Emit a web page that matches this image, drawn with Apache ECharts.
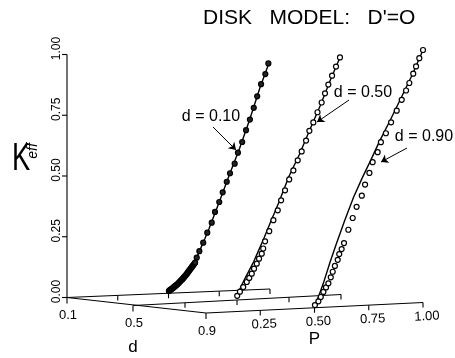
<!DOCTYPE html>
<html><head><meta charset="utf-8">
<script src="https://cdn.jsdelivr.net/npm/echarts@6/dist/echarts.min.js"></script>
<style>html,body{margin:0;padding:0;background:#fff}#c{width:455px;height:358px}</style>
</head><body><div id="c"></div>
<script>
// ---------------- data ----------------
const kTicks = [0, 0.25, 0.5, 0.75, 1.0];
const kTickLabels = ['0.00', '0.25', '0.50', '0.75', '1.00'];
const pTicks = [0.25, 0.5, 0.75, 1.0];
const pTickLabels = ['0.25', '0.50', '0.75', '1.00'];
const dTicks = [0.1, 0.5, 0.9];
const dTickLabels = ['0.1', '0.5', '0.9'];
const slices = [0.1, 0.5, 0.9];
const sliceLabels = ['d = 0.10', 'd = 0.50', 'd = 0.90'];

// simulation points (circles)
const p_sim_d010 = [0.502,0.505,0.509,0.512,0.516,0.519,0.523,0.526,0.530,0.533,0.537,0.540,0.544,0.547,0.551,0.554,0.558,0.561,0.565,0.568,0.572,0.575,0.579,0.582,0.586,0.589,0.593,0.596,0.600,0.603,0.607,0.610,0.614,0.617,0.621,0.624,0.628,0.631,0.639,0.652,0.671,0.691,0.713,0.729,0.750,0.767,0.787,0.803,0.826,0.842,0.863,0.882,0.901,0.920,0.937,0.956,0.977,0.992];
const k_sim_d010 = [0.009,0.012,0.014,0.016,0.018,0.020,0.022,0.025,0.027,0.030,0.032,0.035,0.037,0.040,0.043,0.046,0.049,0.052,0.055,0.058,0.061,0.065,0.068,0.072,0.075,0.079,0.083,0.087,0.091,0.095,0.099,0.103,0.107,0.111,0.115,0.119,0.123,0.127,0.148,0.176,0.212,0.255,0.298,0.344,0.387,0.429,0.475,0.512,0.554,0.602,0.649,0.701,0.748,0.800,0.851,0.905,0.950,0.998];
const p_sim_d050 = [0.501,0.514,0.530,0.547,0.559,0.571,0.582,0.595,0.606,0.619,0.626,0.635,0.655,0.675,0.696,0.712,0.731,0.751,0.771,0.792,0.811,0.832,0.848,0.867,0.887,0.907,0.923,0.939,0.957,0.976,0.995];
const k_sim_d050 = [0.017,0.033,0.051,0.071,0.087,0.104,0.124,0.144,0.164,0.184,0.205,0.234,0.275,0.320,0.360,0.401,0.442,0.487,0.524,0.566,0.603,0.648,0.689,0.724,0.767,0.808,0.847,0.884,0.922,0.961,1.000];
const p_sim_d090 = [0.502,0.518,0.529,0.541,0.553,0.564,0.575,0.584,0.594,0.607,0.614,0.625,0.636,0.656,0.676,0.694,0.718,0.733,0.753,0.768,0.791,0.806,0.829,0.853,0.879,0.902,0.922,0.937,0.955,0.968,0.983,1.000];
const k_sim_d090 = [0.010,0.024,0.040,0.059,0.076,0.091,0.114,0.135,0.157,0.180,0.202,0.221,0.244,0.295,0.340,0.383,0.426,0.469,0.514,0.556,0.595,0.634,0.669,0.712,0.758,0.801,0.838,0.868,0.905,0.934,0.967,1.000];

// theory curves (solid lines)
const p_line_d010 = [0.500,0.520,0.540,0.560,0.580,0.600,0.620,0.640,0.660,0.680,0.700,0.750,0.800,0.850,0.900,0.950,0.995];
const k_line_d010 = [0.008,0.022,0.035,0.052,0.068,0.090,0.114,0.150,0.191,0.231,0.273,0.387,0.505,0.620,0.748,0.888,1.000];
const p_line_d050 = [0.500,0.520,0.540,0.560,0.580,0.600,0.630,0.660,0.700,0.750,0.800,0.850,0.900,0.950,0.995];
const k_line_d050 = [0.018,0.055,0.088,0.120,0.152,0.190,0.248,0.310,0.390,0.500,0.590,0.693,0.794,0.906,1.000];
const p_line_d090 = [0.500,0.520,0.540,0.570,0.600,0.640,0.680,0.720,0.760,0.800,0.850,0.900,0.950,1.000];
const k_line_d090 = [0.005,0.045,0.090,0.168,0.240,0.333,0.420,0.495,0.565,0.638,0.722,0.810,0.900,1.000];

// ---------------- oblique projection of the 3-D box (layout) ----------------
const GEO = {
  sx: [67, 133, 206], sy: [297.5, 305.5, 313],   // P = 0 on each d plane
  ex: [270, 341, 423], ey: [289, 294.5, 302.5],  // P = 1 on each d plane
  h0: [243, 257, 271], h1: [226, 237, 252.5]     // height of K = 1 at P = 0 / P = 1
};
function byD(arr, d) {
  if (d <= 0.5) { const t = (d - 0.1) / 0.4; return arr[0] + (arr[1] - arr[0]) * t; }
  const t = (d - 0.5) / 0.4; return arr[1] + (arr[2] - arr[1]) * t;
}
function proj(p, d, k) {
  const sx = byD(GEO.sx, d), sy = byD(GEO.sy, d), ex = byD(GEO.ex, d), ey = byD(GEO.ey, d);
  const h = byD(GEO.h0, d) + (byD(GEO.h1, d) - byD(GEO.h0, d)) * p;
  return [sx + (ex - sx) * p, sy + (ey - sy) * p - k * h];
}

const simSets = [[p_sim_d010, k_sim_d010], [p_sim_d050, k_sim_d050], [p_sim_d090, k_sim_d090]];
const lineSets = [[p_line_d010, k_line_d010], [p_line_d050, k_line_d050], [p_line_d090, k_line_d090]];

// axis segments
const segs = [];
const push = (a, b) => segs.push([a[0], a[1], b[0], b[1]]);
push(proj(0, 0.1, 0), proj(0, 0.1, 1));                       // K axis
kTicks.forEach(k => { const a = proj(0, 0.1, k); push(a, [a[0] - 5, a[1]]); });
push(proj(0, 0.1, 0), proj(0, 0.9, 0));                       // d axis
dTicks.forEach(d => { const a = proj(0, d, 0); push(a, [a[0], a[1] + 6]); });
slices.forEach(d => {
  push(proj(0, d, 0), proj(1, d, 0));                         // P baselines
  pTicks.forEach(p => { const a = proj(p, d, 0); push(a, [a[0], a[1] + 5]); });
});

// tick labels
const FONT = 'Liberation Sans, Arial, sans-serif';
const texts = [];
kTicks.forEach((k, i) => { const a = proj(0, 0.1, k); texts.push({ x: a[0] - 10, y: a[1] - 6, t: kTickLabels[i], s: 12, r: Math.PI / 2 }); });
pTicks.forEach((p, i) => { const a = proj(p, 0.9, 0); texts.push({ x: a[0] + 4, y: a[1] + 14, t: pTickLabels[i], s: 13, r: 0.045 }); });
dTicks.forEach((d, i) => { const a = proj(0, d, 0); texts.push({ x: a[0] + 1, y: a[1] + 18, t: dTickLabels[i], s: 13, r: 0 }); });
{ const a = proj(0, 0.5, 0); texts.push({ x: a[0], y: a[1] + 42, t: 'd', s: 17, r: 0 }); }
{ const a = proj(0.5, 0.9, 0); texts.push({ x: a[0], y: a[1] + 32, t: 'P', s: 17, r: 0 }); }

const series = [];
series.push({
  type: 'custom', silent: true, animation: false, z: 2,
  data: segs,
  renderItem: (params, api) => {
    const a = api.coord([api.value(0), api.value(1)]);
    const b = api.coord([api.value(2), api.value(3)]);
    return { type: 'line', shape: { x1: a[0], y1: a[1], x2: b[0], y2: b[1] }, style: { stroke: '#000', lineWidth: 1.1 } };
  }
});
series.push({
  type: 'custom', silent: true, animation: false, z: 3,
  data: texts.map(t => [t.x, t.y]),
  renderItem: (params, api) => {
    const it = texts[params.dataIndex];
    const c = api.coord([api.value(0), api.value(1)]);
    return { type: 'text', x: c[0], y: c[1], rotation: it.r,
      style: { text: it.t, fontSize: it.s, fontFamily: FONT, fill: '#000', align: 'center', verticalAlign: 'middle' } };
  }
});
lineSets.forEach((s, i) => {
  series.push({
    type: 'line', silent: true, animation: false, z: 4, showSymbol: false, symbol: 'none',
    data: s[0].map((p, j) => proj(p, slices[i], s[1][j])),
    lineStyle: { color: '#000', width: 1.4 }
  });
});
simSets.forEach((s, i) => {
  series.push({
    type: 'scatter', silent: true, animation: false, z: 5,
    data: s[0].map((p, j) => proj(p, slices[i], s[1][j])),
    symbol: 'circle', symbolSize: 5,
    itemStyle: { color: i === 0 ? '#222' : '#fff', borderColor: '#000', borderWidth: 1.2, opacity: 1 }
  });
});
// annotation arrows
series.push({
  type: 'line', data: [], silent: true, animation: false, z: 6,
  markLine: {
    silent: true, animation: false, symbol: ['none', 'arrow'], symbolSize: 7,
    label: { show: false }, lineStyle: { color: '#000', width: 1, type: 'solid' },
    data: [
      [{ coord: [213, 127] }, { coord: [236, 150] }],
      [{ coord: [349, 100] }, { coord: [317, 122] }],
      [{ coord: [407, 148] }, { coord: [381, 162] }]
    ]
  }
});

const chart = echarts.init(document.getElementById('c'), null, { renderer: 'canvas' });
chart.setOption({
  animation: false,
  backgroundColor: '#fff',
  grid: { left: 0, right: 0, top: 0, bottom: 0 },
  xAxis: { type: 'value', min: 0, max: 455, show: false },
  yAxis: { type: 'value', min: 0, max: 358, inverse: true, show: false },
  graphic: [
    { type: 'text', left: 203, top: 8, style: { text: "DISK   MODEL:   D'=O", fontSize: 21, fontFamily: FONT, fill: '#000' } },
    { type: 'text', x: 21, y: 160, scaleX: 0.72, style: { text: 'K', fontSize: 38, fontFamily: FONT, fill: '#000', align: 'center', verticalAlign: 'middle' } },
    { type: 'text', x: 33, y: 151, rotation: Math.PI / 2, style: { text: 'eff', fontSize: 14, fontStyle: 'italic', fontFamily: FONT, fill: '#000', align: 'center', verticalAlign: 'middle' } },
    { type: 'text', x: 211, y: 117, style: { text: sliceLabels[0], fontSize: 16, fontFamily: FONT, fill: '#000', align: 'center', verticalAlign: 'middle' } },
    { type: 'text', x: 363, y: 93, style: { text: sliceLabels[1], fontSize: 16, fontFamily: FONT, fill: '#000', align: 'center', verticalAlign: 'middle' } },
    { type: 'text', x: 424, y: 137, style: { text: sliceLabels[2], fontSize: 16, fontFamily: FONT, fill: '#000', align: 'center', verticalAlign: 'middle' } }
  ],
  series: series
});
</script></body></html>
